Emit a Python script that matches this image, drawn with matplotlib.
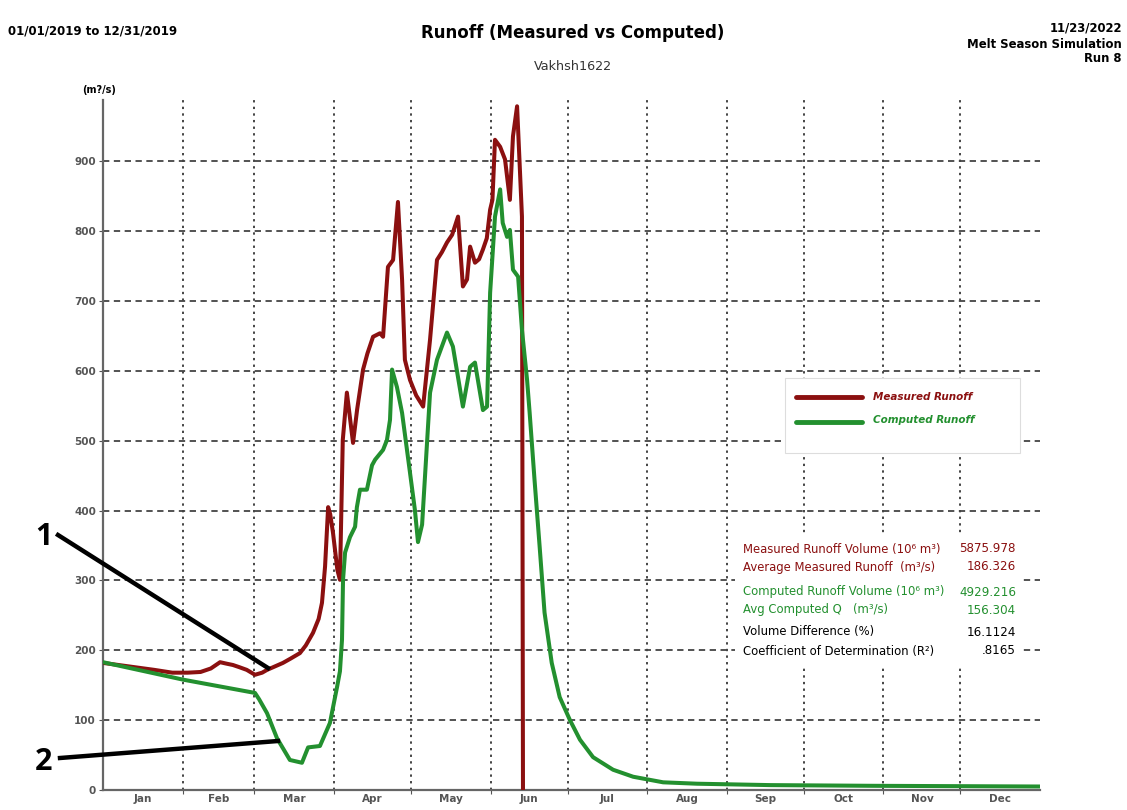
import matplotlib
matplotlib.use("Agg")
import matplotlib.pyplot as plt
from matplotlib.lines import Line2D
from matplotlib.patches import Rectangle

# ---------------- data ----------------
meas_days = [0, 10, 20, 27, 33, 38, 42, 45.6, 48, 50.6, 53, 56, 59.2, 62, 63.9, 67, 70.1, 73, 76.7, 79,
             81.8, 84, 85.3, 86.5, 87.7, 88.5, 89.6, 90.5, 91.3, 92.3, 93.4, 95, 97.4, 99, 101.3, 103,
             105.2, 107.9, 109.1, 111, 113, 114.9, 116.5, 117.6, 119.6, 122, 124.7, 127.4, 130.1, 132,
             134, 136, 138.3, 140.2, 141.8, 143, 144.9, 146.5, 148, 149.5, 150.8, 151.7, 152.7, 154.7,
             156.6, 158.5, 159.7, 161.3, 162.4, 163.2, 163.4, 163.6]
measured = [182, 177, 172, 168, 168, 169, 174, 183, 181, 179, 176, 172, 165, 168, 172, 177, 182, 188, 196, 207,
            225, 245, 268, 320, 405, 395, 368, 340, 315, 301, 501, 569, 497, 545, 602, 625,
            649, 654, 649, 749, 759, 842, 731, 616, 587, 565, 549, 645, 759, 770,
            784, 795, 821, 721, 731, 778, 755, 760, 774, 790, 831, 845, 931, 921,
            903, 845, 936, 979, 888, 821, 411, 0]

comp_days = [0, 31.2, 59.2, 60.8, 63.9, 67.8, 72.8, 77.5, 79.9, 84.5, 88.4, 91.2, 92.3, 93.1, 93.5, 94.3,
             96.2, 98.2, 98.9, 100.1, 102.8, 104.8, 106, 109.1, 110.6, 111.8, 112.6, 114.5, 116.5, 119.6,
             121.5, 122.7, 124.3, 127.4, 130.1, 134, 136.3, 140.2, 143, 144.9, 148, 149.6, 150.8, 152.7,
             154.7, 155.7, 157.4, 158.5, 159.7, 161.7, 163.2, 165.2, 166.2, 168.1, 170.1, 172.0, 174.8,
             177.9, 181.9, 185.8, 190.9, 198.7, 206.5, 218.2, 231.4, 260, 300, 365]
computed = [183, 158, 139, 130, 110, 74, 43, 39, 61, 63, 96, 148, 170, 215, 301, 340,
            362, 377, 405, 430, 430, 465, 473, 487, 501, 530, 602, 577, 540, 454,
            401, 355, 380, 569, 616, 655, 635, 549, 606, 612, 544, 549, 712, 821,
            860, 812, 792, 802, 745, 735, 659, 587, 540, 444, 348, 254, 182,
            133, 100, 72, 47, 29, 19, 11, 9, 7, 6, 5]

month_starts = [0, 31, 59, 90, 120, 151, 181, 212, 243, 273, 304, 334, 365]
month_labels = ["Jan", "Feb", "Mar", "Apr", "May", "Jun", "Jul", "Aug", "Sep", "Oct", "Nov", "Dec"]
y_ticks = [0, 100, 200, 300, 400, 500, 600, 700, 800, 900]

stat_labels = ["Measured Runoff Volume (10\u2076 m\u00b3)", "Average Measured Runoff  (m\u00b3/s)",
               "Computed Runoff Volume (10\u2076 m\u00b3)", "Avg Computed Q   (m\u00b3/s)",
               "Volume Difference (%)", "Coefficient of Determination (R\u00b2)"]
stat_values = ["5875.978", "186.326", "4929.216", "156.304", "16.1124", ".8165"]

RED = "#8b1010"
GREEN = "#23902f"
stat_colors = [RED, RED, GREEN, GREEN, "black", "black"]

# ---------------- figure ----------------
W, H = 1127, 810
fig = plt.figure(figsize=(W / 100, H / 100), dpi=100)
fig.patch.set_facecolor("white")


def fx(px):
    return px / W


def fy(py):
    return 1 - py / H


ax = fig.add_axes([fx(103), fy(790), fx(1040) - fx(103), fy(100) - fy(790)])
ax.set_xlim(0, 365)
ax.set_ylim(0, 988)

ax.plot(meas_days, measured, color=RED, lw=2.9, solid_joinstyle="round", zorder=3)
ax.plot(comp_days, computed, color=GREEN, lw=2.9, solid_joinstyle="round", zorder=4)

# grid
for d in month_starts[1:-1]:
    ax.axvline(d, color="#444444", lw=1.4, ls=(0, (1.2, 2.2)), zorder=1)
for v in y_ticks[1:]:
    ax.axhline(v, color="#444444", lw=1.3, ls=(0, (3.5, 2.5)), zorder=1)

ax.set_yticks(y_ticks)
ax.set_yticklabels([str(v) for v in y_ticks], fontsize=7.5, fontweight="bold", color="#555555")
ax.set_xticks(month_starts[1:-1])
ax.set_xticklabels([])
mids = [(month_starts[i] + month_starts[i + 1]) / 2 for i in range(12)]
ax.set_xticks(mids, minor=True)
ax.set_xticklabels(month_labels, minor=True, fontsize=7.5, fontweight="bold", color="#555555")
ax.tick_params(axis="x", which="minor", length=0, pad=3)
ax.tick_params(axis="x", which="major", length=3, color="#555555")
ax.tick_params(axis="y", length=3, color="#555555", pad=2)
for s in ["top", "right"]:
    ax.spines[s].set_visible(False)
for s in ["left", "bottom"]:
    ax.spines[s].set_color("#666666")
    ax.spines[s].set_linewidth(1.6)

# legend box
ax.add_artist(Rectangle((fx(785), fy(453)), fx(1020) - fx(785), fy(378) - fy(453), transform=fig.transFigure,
                        facecolor="white", edgecolor="#dddddd", lw=0.8, zorder=5))
fig.add_artist(Line2D([fx(796), fx(862)], [fy(397), fy(397)], color=RED, lw=3.5, solid_capstyle="round", zorder=6))
fig.add_artist(Line2D([fx(796), fx(862)], [fy(422), fy(422)], color=GREEN, lw=3.5, solid_capstyle="round", zorder=6))
fig.text(fx(873), fy(397), "Measured Runoff", color=RED, fontsize=7.5, style="italic", fontweight="bold",
         va="center", ha="left", zorder=7)
fig.text(fx(873), fy(420), "Computed Runoff", color=GREEN, fontsize=7.5, style="italic", fontweight="bold",
         va="center", ha="left", zorder=7)

# statistics box
ax.add_artist(Rectangle((fx(735), fy(668)), fx(1022) - fx(735), fy(535) - fy(668), transform=fig.transFigure,
                        facecolor="white", edgecolor="none", zorder=5))
stat_y = [549, 567, 592, 610, 632, 651]
for lab, val, col, py in zip(stat_labels, stat_values, stat_colors, stat_y):
    fig.text(fx(743), fy(py), lab, color=col, fontsize=8.4, va="center", ha="left", zorder=7)
    fig.text(fx(1016), fy(py), val, color=col, fontsize=8.6, va="center", ha="right", zorder=7)

# header texts
fig.text(fx(8), fy(31), "01/01/2019 to 12/31/2019", fontsize=8.5, fontweight="bold", va="center", ha="left")
fig.text(fx(573), fy(33), "Runoff (Measured vs Computed)", fontsize=12, fontweight="bold", va="center", ha="center")
fig.text(fx(573), fy(66), "Vakhsh1622", fontsize=9.2, va="center", ha="center", color="#333333")
fig.text(fx(1122), fy(28), "11/23/2022", fontsize=8.4, fontweight="bold", va="center", ha="right")
fig.text(fx(1122), fy(44), "Melt Season Simulation", fontsize=8.4, fontweight="bold", va="center", ha="right")
fig.text(fx(1122), fy(59), "Run 8", fontsize=8.4, fontweight="bold", va="center", ha="right")
fig.text(fx(82), fy(90), "(m?/s)", fontsize=7, fontweight="bold", va="center", ha="left")

# annotations 1 and 2
fig.text(fx(44), fy(537), "1", fontsize=22, fontweight="bold", family="Open Sans", va="center", ha="center")
fig.text(fx(44), fy(762), "2", fontsize=22, fontweight="bold", family="Open Sans", va="center", ha="center")
fig.add_artist(Line2D([fx(58), fx(268)], [fy(535), fy(668)], color="black", lw=3.2, zorder=8))
fig.add_artist(Line2D([fx(60), fx(278)], [fy(758), fy(741)], color="black", lw=3.2, zorder=8))

fig.savefig("out.png", dpi=100, facecolor="white")
